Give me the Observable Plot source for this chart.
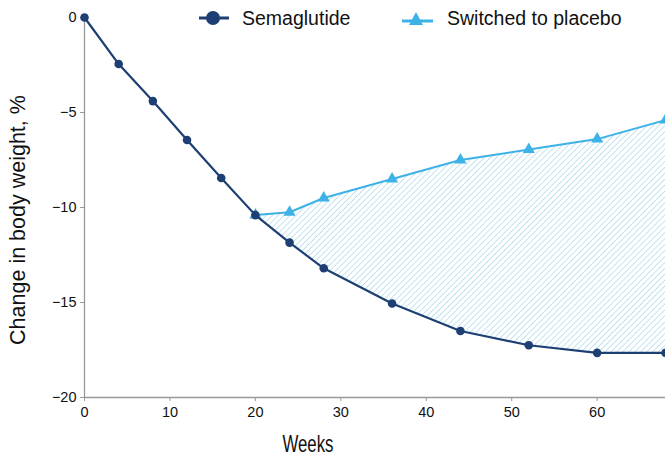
<!DOCTYPE html>
<html>
<head>
<meta charset="utf-8">
<script src="https://cdn.jsdelivr.net/npm/d3@7"></script>
<script src="https://cdn.jsdelivr.net/npm/@observablehq/plot@0.6"></script>
<style>
  html, body { margin: 0; padding: 0; background: #fff; }
  #wrap { position: relative; width: 665px; height: 459px; font-family: "Liberation Sans", Arial, sans-serif; color: #111; }
  .leg { position: absolute; top: 4px; display: flex; align-items: center; font-size: 19.5px; line-height: 28px; }
  .leg svg { margin-right: 12px; }
  #ylab { position: absolute; left: 18px; top: 220px; transform: translate(-50%, -50%) rotate(-90deg); white-space: nowrap; font-size: 21.5px; }
  #xlab { position: absolute; left: 308px; top: 430px; transform: translateX(-50%) scaleX(0.7); font-size: 24px; line-height: 28px; }
</style>
</head>
<body>
<div id="wrap">
  <div id="chart"></div>
  <div class="leg" style="left:198px">
    <svg width="32" height="28"><line x1="1" y1="14" x2="31" y2="14" stroke="#1d3f73" stroke-width="3"/><circle cx="15" cy="14" r="7" fill="#1d3f73"/></svg>
    <span>Semaglutide</span>
  </div>
  <div class="leg" style="left:401px">
    <svg width="34" height="28"><line x1="1" y1="17" x2="32" y2="17" stroke="#3db2e6" stroke-width="3"/><polygon points="15,8 22,21 8,21" fill="#3db2e6"/></svg>
    <span>Switched to placebo</span>
  </div>
  <div id="ylab">Change in body weight, %</div>
  <div id="xlab">Weeks</div>
</div>
<script>
const weeks = [0, 4, 8, 12, 16, 20, 24, 28, 36, 44, 52, 60, 68];
const semaglutide = [0, -2.45, -4.4, -6.45, -8.45, -10.4, -11.85, -13.2, -15.05, -16.5, -17.25, -17.65, -17.65];
const placeboWeeks = [20, 24, 28, 36, 44, 52, 60, 68];
const placebo = [-10.4, -10.25, -9.5, -8.5, -7.5, -6.95, -6.4, -5.4];
const xTicks = [0, 10, 20, 30, 40, 50, 60];
const yTicks = [0, -5, -10, -15, -20];

const sema = weeks.map((w, i) => ({week: w, value: semaglutide[i]}));
const plac = placeboWeeks.map((w, i) => ({week: w, value: placebo[i]}));
const band = placeboWeeks.map((w, i) => ({week: w, lo: semaglutide[weeks.indexOf(w)], hi: placebo[i]}));

const dark = "#1d3f73";
const light = "#3db2e6";

const chart = Plot.plot({
  width: 665,
  height: 459,
  marginLeft: 84,
  marginRight: 0,
  marginTop: 17,
  marginBottom: 62,
  style: {fontFamily: "'Liberation Sans', Arial, sans-serif", fontSize: "14.5px", color: "#111", background: "white"},
  x: {domain: [0, 68]},
  y: {domain: [-20, 0]},
  marks: [
    Plot.areaY(band, {x: "week", y1: "lo", y2: "hi", fill: "url(#hatch)"}),
    Plot.ruleX([0], {stroke: "#999", strokeWidth: 1.3}),
    Plot.ruleY([-20], {stroke: "#999", strokeWidth: 1.3}),
    Plot.axisX({ticks: xTicks, tickSize: 4, tickPadding: 5, stroke: "#999", label: null, fontSize: 14.5}),
    Plot.axisY({ticks: yTicks, tickSize: 4, tickPadding: 4, stroke: "#999", label: null, fontSize: 14.5}),
    Plot.line(plac, {x: "week", y: "value", stroke: light, strokeWidth: 2}),
    Plot.dot(plac, {x: "week", y: "value", symbol: "triangle", fill: light, r: 4.5}),
    Plot.line(sema, {x: "week", y: "value", stroke: dark, strokeWidth: 2.2}),
    Plot.dot(sema, {x: "week", y: "value", fill: dark, r: 4.3})
  ]
});

const ns = "http://www.w3.org/2000/svg";
const defs = document.createElementNS(ns, "defs");
defs.innerHTML = `<pattern id="hatch" patternUnits="userSpaceOnUse" width="4.2" height="4.2" patternTransform="rotate(45)">
  <rect width="4.2" height="4.2" fill="white"/>
  <line x1="0" y1="0" x2="0" y2="4.2" stroke="#b0dbec" stroke-width="1.5"/>
</pattern>`;
chart.insertBefore(defs, chart.firstChild);
document.getElementById("chart").appendChild(chart);
</script>
</body>
</html>
